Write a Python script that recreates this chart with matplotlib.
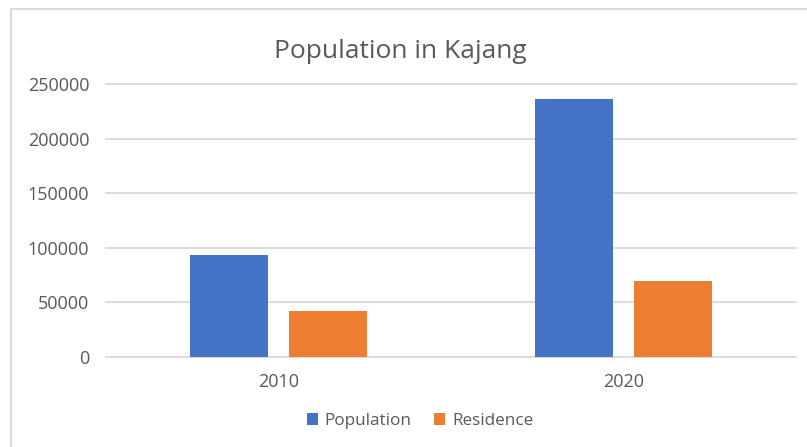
"""Population in Kajang - clustered bar chart (Excel style)."""

import matplotlib

matplotlib.use("Agg")
import matplotlib.pyplot as plt
import numpy as np
from matplotlib.patches import Rectangle

plt.rcParams["font.family"] = ["Open Sans", "DejaVu Sans"]

# Data
years = ["2010", "2020"]
population = [93300, 236200]
residence = [41500, 69200]
y_ticks = [0, 50000, 100000, 150000, 200000, 250000]

BLUE = "#4472C4"
ORANGE = "#ED7D31"
GREY_TEXT = "#595959"
GRID = "#D9D9D9"

W, H = 807, 447
fig = plt.figure(figsize=(W / 100, H / 100), dpi=100)

# chart frame, cut off at the right and bottom like the screenshot
fig.patches.append(
    Rectangle((11 / W, -0.05), 1.2, 1 - 9 / H + 0.05, transform=fig.transFigure,
              fill=False, edgecolor=GRID, linewidth=1.5)
)

left, right = 106 / W, 796 / W
bottom, top = 1 - 356.7 / H, 1 - 84.3 / H
ax = fig.add_axes([left, bottom, right - left, top - bottom])

x = np.arange(len(years))
width = 0.226
offset = 0.143
ax.bar(x - offset, population, width, color=BLUE, label="Population", zorder=3)
ax.bar(x + offset, residence, width, color=ORANGE, label="Residence", zorder=3)

ax.set_xlim(-0.5, len(years) - 0.5)
ax.set_ylim(0, 250000)
ax.set_yticks(y_ticks)
ax.set_yticklabels([str(v) for v in y_ticks])
ax.set_xticks(x)
ax.set_xticklabels(years)

ax.yaxis.grid(True, color=GRID, linewidth=1.3)
for gl in ax.get_ygridlines():
    gl.set_clip_on(False)
ax.set_axisbelow(True)
for s in ax.spines.values():
    s.set_visible(False)
ax.tick_params(axis="both", length=0, labelsize=13, labelcolor=GREY_TEXT)
ax.tick_params(axis="y", pad=12)
ax.tick_params(axis="x", pad=12)

fig.text(400 / W, 1 - 51 / H, "Population in Kajang", fontsize=19, color=GREY_TEXT,
         ha="center", va="center")

fig.legend(loc="center", bbox_to_anchor=(420 / W, 1 - 421 / H), ncol=2, frameon=False,
           fontsize=12.3, labelcolor=GREY_TEXT, handlelength=0.65, handleheight=0.65,
           handletextpad=0.4, columnspacing=1.3)

fig.savefig("out.png", dpi=100)
